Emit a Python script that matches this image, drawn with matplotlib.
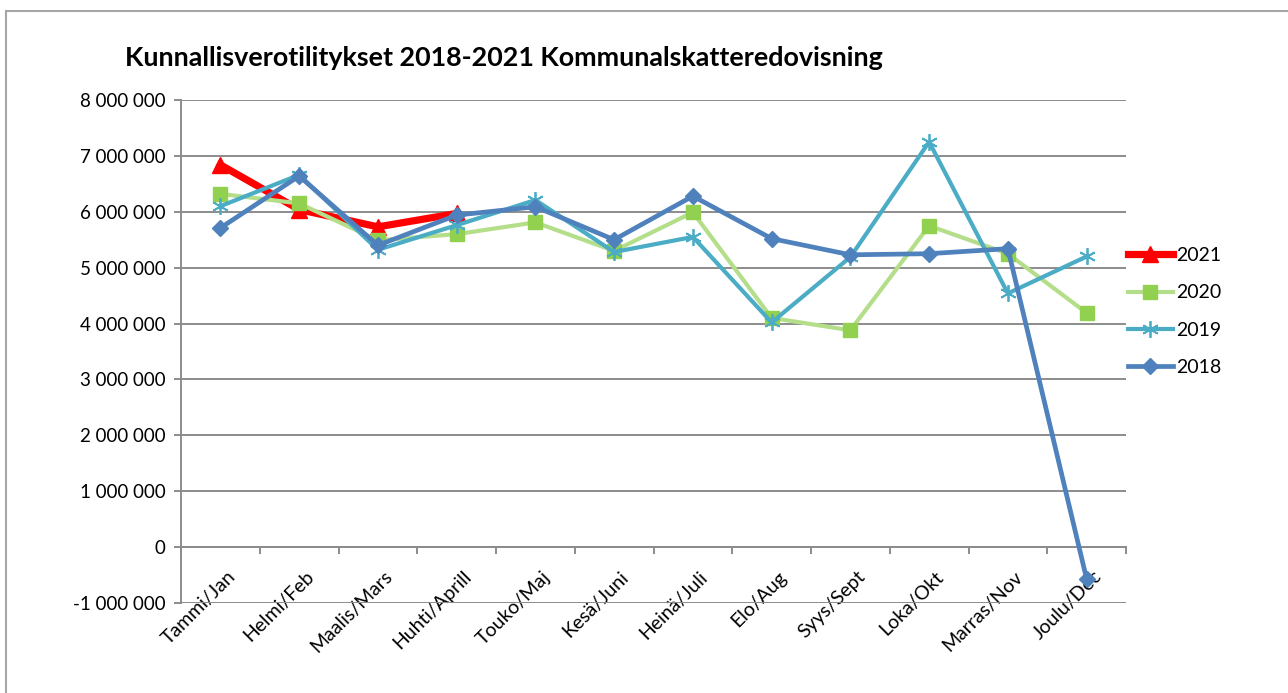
import matplotlib
matplotlib.use("Agg")
import matplotlib.pyplot as plt
from matplotlib.patches import Rectangle
from matplotlib.ticker import FuncFormatter, FixedLocator
from matplotlib.transforms import ScaledTranslation
import numpy as np

categories = ["Tammi/Jan", "Helmi/Feb", "Maalis/Mars", "Huhti/Aprill", "Touko/Maj",
              "Kesä/Juni", "Heinä/Juli", "Elo/Aug", "Syys/Sept", "Loka/Okt",
              "Marras/Nov", "Joulu/Dec"]

v2021 = [6.84e6, 6.04e6, 5.73e6, 5.97e6]
v2020 = [6.32e6, 6.15e6, 5.49e6, 5.60e6, 5.81e6, 5.30e6, 5.99e6, 4.10e6, 3.88e6, 5.75e6, 5.25e6, 4.19e6]
v2019 = [6.10e6, 6.66e6, 5.32e6, 5.76e6, 6.21e6, 5.28e6, 5.55e6, 4.02e6, 5.19e6, 7.25e6, 4.54e6, 5.20e6]
v2018 = [5.71e6, 6.64e6, 5.40e6, 5.94e6, 6.09e6, 5.50e6, 6.28e6, 5.52e6, 5.23e6, 5.25e6, 5.34e6, -0.57e6]

title = "Kunnallisverotilitykset 2018-2021 Kommunalskatteredovisning"
yticks = np.arange(-1_000_000, 8_000_001, 1_000_000)

W, H = 1288, 693
FONT = "Lato"
fig = plt.figure(figsize=(W / 100, H / 100), dpi=100)
fig.patch.set_facecolor("white")

# chart border
fig.add_artist(Rectangle((6 / W, -0.05), 1.2, 1 - 11 / H + 0.05, transform=fig.transFigure,
                         fill=False, edgecolor="#A6A6A6", linewidth=1.5))

L, R, T, B = 181, 1126, 100, 603
ax = fig.add_axes([L / W, 1 - B / H, (R - L) / W, (B - T) / H])

grid_c = "#8C8C8C"
x = np.arange(len(categories))

ax.plot(x[:len(v2021)], v2021, color="#FF0000", lw=5.2, marker="^", ms=11,
        mfc="#FF0000", mec="#FF0000", label="2021", zorder=3)
ax.plot(x, v2020, color="#B5DE8B", lw=3.0, marker="s", ms=10.5,
        mfc="#92D050", mec="#92D050", label="2020", zorder=4)
ax.plot(x, v2019, color="#4BACC6", lw=3.0, marker=(6, 2, 0), ms=12, mew=1.3,
        mfc="#4BACC6", mec="#4BACC6", label="2019", zorder=5)
ax.plot(x, v2018, color="#4F81BD", lw=3.4, marker="D", ms=8,
        mfc="#4F81BD", mec="#4F81BD", label="2018", zorder=6)

ax.set_xlim(-0.5, len(categories) - 0.5)
ax.set_ylim(yticks[0], yticks[-1])
ax.set_yticks(yticks)
ax.yaxis.set_major_formatter(FuncFormatter(lambda v, p: f"{int(v):,}".replace(",", " ")))
ax.grid(axis="y", color=grid_c, lw=1.4)
ax.set_axisbelow(True)

for s in ["top", "right"]:
    ax.spines[s].set_visible(False)
ax.spines["left"].set_color(grid_c)
ax.spines["left"].set_linewidth(1.4)
ax.spines["bottom"].set_position(("data", 0))
ax.spines["bottom"].set_color(grid_c)
ax.spines["bottom"].set_linewidth(1.4)

ax.tick_params(axis="y", which="major", length=5, width=1.4, color=grid_c,
               labelsize=13.5, pad=6)
ax.xaxis.set_major_locator(FixedLocator(np.arange(-0.5, len(categories), 1.0)))
ax.xaxis.set_minor_locator(FixedLocator(x))
ax.tick_params(axis="x", which="major", length=5, width=1.4, color=grid_c, labelbottom=False)
ax.tick_params(axis="x", which="minor", length=0, labelsize=14, pad=15)
ax.set_xticks(x, minor=True)
ax.set_xticklabels(categories, minor=True, rotation=45, ha="right", va="top",
                   rotation_mode="anchor")
shift = ScaledTranslation(6 / 100, 0, fig.dpi_scale_trans)
for lab in ax.get_xticklabels(minor=True):
    lab.set_fontfamily(FONT)
    lab.set_transform(lab.get_transform() + shift)
for lab in ax.get_yticklabels():
    lab.set_fontfamily(FONT)

fig.text(125 / W, 1 - 58 / H, title, fontsize=19.4, fontweight="bold", family=FONT,
         ha="left", va="center")

leg = fig.legend(loc="upper left", bbox_to_anchor=(1128 / W, 1 - 247 / H), frameon=False,
                 prop={"family": FONT, "size": 14}, handlelength=2.3,
                 handletextpad=0.2, labelspacing=1.05, borderpad=0, borderaxespad=0)

fig.savefig("out.png", dpi=100)
